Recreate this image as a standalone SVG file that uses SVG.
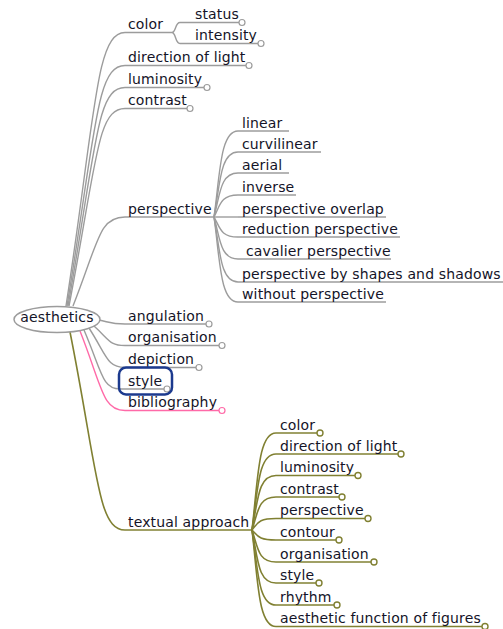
<svg xmlns="http://www.w3.org/2000/svg" width="503" height="629" viewBox="0 0 503 629">
<style>
text{font-family:"DejaVu Sans","Liberation Sans",sans-serif;font-size:14px;letter-spacing:0.15px;fill:#141428}
.g{fill:none;stroke:#9c9c9c;stroke-width:1.4}
.o{fill:none;stroke:#808032;stroke-width:1.6}
.p{fill:none;stroke:#ff6aa8;stroke-width:1.4}
.cg{fill:#fff;stroke:#9c9c9c;stroke-width:1.2}
.co{fill:#fff;stroke:#808032;stroke-width:1.4}
.cp{fill:#fff;stroke:#ff6aa8;stroke-width:1.2}
</style>
<g id="connectors">
<path class="g" d="M66 306 C95.5 115 95.5 32.5 125 32.5"/>
<path class="g" d="M67 306 C96 130 96 65.5 125 65.5"/>
<path class="g" d="M68 306 C96.5 145 96.5 87.5 125 87.5"/>
<path class="g" d="M69 306 C97 160 97 108.5 125 108.5"/>
<path class="g" d="M73 306 C99 240 99 217 125 217"/>
<path class="g" d="M99 320 C112 323 112 324 125 324"/>
<path class="g" d="M94 326 C109.5 340 109.5 345.5 125 345.5"/>
<path class="g" d="M89 328 C107 356 107 367.5 125 367.5"/>
<path class="g" d="M84 330 C102 372 102 389 120 389"/>
<path class="p" d="M80 331 C102.5 388 102.5 410.5 125 410.5"/>
<path class="o" d="M70 332 C97.5 470 97.5 530 125 530"/>
<path class="g" d="M172 32.5 C176 32.5 175 22.5 180 22.5"/>
<path class="g" d="M172 32.5 C176 32.5 175 43.5 180 43.5"/>
<g class="g">
<path d="M214 217 C220 175 220 131 238 131"/>
<path d="M214 217 C220 185 220 152 238 152"/>
<path d="M214 217 C220 195 220 173 238 173"/>
<path d="M214 217 C220 206 220 195 238 195"/>
<path d="M214 217 L238 217"/>
<path d="M214 217 C220 227 220 237 238 237"/>
<path d="M214 217 C220 238 220 259 238 259"/>
<path d="M214 217 C220 250 220 282 238 282"/>
<path d="M214 217 C220 260 220 302 238 302"/>
</g>
<g class="o">
<path d="M252 530 C258 480 258 433 276 433"/>
<path d="M252 530 C258 490 258 454 276 454"/>
<path d="M252 530 C258 500 258 475.5 276 475.5"/>
<path d="M252 530 C258 512 258 497 276 497"/>
<path d="M252 530 C258 523 258 518.5 276 518.5"/>
<path d="M252 530 C258 536 258 540 276 540"/>
<path d="M252 530 C258 548 258 562 276 562"/>
<path d="M252 530 C258 560 258 583 276 583"/>
<path d="M252 530 C258 570 258 605 276 605"/>
<path d="M252 530 C258 580 258 626.5 276 626.5"/>
</g>
</g>
<g id="root">
<ellipse cx="57" cy="319.5" rx="43" ry="13" fill="#fff" stroke="#9c9c9c" stroke-width="1.5"/>
<text x="57" y="321.5" text-anchor="middle">aesthetics</text>
</g>
<g id="n-color"><path class="g" d="M125 32.5H172"/><text x="128" y="29">color</text></g>
<g id="n-status"><path class="g" d="M180 22.5H239"/><circle class="cg" cx="242" cy="22.5" r="3"/><text x="195" y="19">status</text></g>
<g id="n-intensity"><path class="g" d="M180 43.5H258"/><circle class="cg" cx="261" cy="43.5" r="3"/><text x="195" y="40">intensity</text></g>
<g id="n-direction"><path class="g" d="M125 65.5H246"/><circle class="cg" cx="249" cy="65.5" r="3"/><text x="128" y="62">direction of light</text></g>
<g id="n-luminosity"><path class="g" d="M125 87.5H204"/><circle class="cg" cx="207" cy="87.5" r="3"/><text x="128" y="84">luminosity</text></g>
<g id="n-contrast"><path class="g" d="M125 108.5H187"/><circle class="cg" cx="190" cy="108.5" r="3"/><text x="128" y="105">contrast</text></g>
<g id="n-perspective"><path class="g" d="M125 217H214"/><text x="128" y="213.5">perspective</text></g>
<g id="n-linear"><path class="g" d="M238 131H289"/><text x="242" y="127.5">linear</text></g>
<g id="n-curvilinear"><path class="g" d="M238 152H321"/><text x="242" y="148.5">curvilinear</text></g>
<g id="n-aerial"><path class="g" d="M238 173H289"/><text x="242" y="169.5">aerial</text></g>
<g id="n-inverse"><path class="g" d="M238 195H296"/><text x="242" y="191.5">inverse</text></g>
<g id="n-overlap"><path class="g" d="M238 217H386"/><text x="242" y="213.5">perspective overlap</text></g>
<g id="n-reduction"><path class="g" d="M238 237H400"/><text x="242" y="233.5">reduction perspective</text></g>
<g id="n-cavalier"><path class="g" d="M238 259H391"/><text x="246" y="255.5">cavalier perspective</text></g>
<g id="n-shapes"><path class="g" d="M238 282H503"/><text x="242" y="278.5">perspective by shapes and shadows</text></g>
<g id="n-without"><path class="g" d="M238 302H386"/><text x="242" y="298.5">without perspective</text></g>
<g id="n-angulation"><path class="g" d="M125 324H206"/><circle class="cg" cx="209" cy="324" r="3"/><text x="128" y="320.5">angulation</text></g>
<g id="n-organisation"><path class="g" d="M125 345.5H219"/><circle class="cg" cx="222" cy="345.5" r="3"/><text x="128" y="342">organisation</text></g>
<g id="n-depiction"><path class="g" d="M125 367.5H196"/><circle class="cg" cx="199" cy="367.5" r="3"/><text x="128" y="364">depiction</text></g>
<g id="n-style"><path class="g" d="M120 389H164"/><circle class="cg" cx="167" cy="389" r="3"/><text x="128" y="385.5">style</text><rect x="119" y="367.5" width="53" height="27" rx="7" fill="none" stroke="#1c3a8e" stroke-width="2.5"/></g>
<g id="n-bibliography"><path class="p" d="M125 410.5H219"/><circle class="cp" cx="222" cy="410.5" r="3"/><text x="128" y="407">bibliography</text></g>
<g id="n-textual"><path class="o" d="M125 530H252"/><text x="128" y="526.5">textual approach</text></g>
<g id="t-color"><path class="o" d="M276 433H317"/><circle class="co" cx="320" cy="433" r="3"/><text x="280" y="429.5">color</text></g>
<g id="t-direction"><path class="o" d="M276 454H398"/><circle class="co" cx="401" cy="454" r="3"/><text x="280" y="450.5">direction of light</text></g>
<g id="t-luminosity"><path class="o" d="M276 475.5H355"/><circle class="co" cx="358" cy="475.5" r="3"/><text x="280" y="472">luminosity</text></g>
<g id="t-contrast"><path class="o" d="M276 497H339"/><circle class="co" cx="342" cy="497" r="3"/><text x="280" y="493.5">contrast</text></g>
<g id="t-perspective"><path class="o" d="M276 518.5H365"/><circle class="co" cx="368" cy="518.5" r="3"/><text x="280" y="515">perspective</text></g>
<g id="t-contour"><path class="o" d="M276 540H336"/><circle class="co" cx="339" cy="540" r="3"/><text x="280" y="536.5">contour</text></g>
<g id="t-organisation"><path class="o" d="M276 562H371"/><circle class="co" cx="374" cy="562" r="3"/><text x="280" y="558.5">organisation</text></g>
<g id="t-style"><path class="o" d="M276 583H316"/><circle class="co" cx="319" cy="583" r="3"/><text x="280" y="579.5">style</text></g>
<g id="t-rhythm"><path class="o" d="M276 605H334"/><circle class="co" cx="337" cy="605" r="3"/><text x="280" y="601.5">rhythm</text></g>
<g id="t-aesthetic"><path class="o" d="M276 626.5H482"/><circle class="co" cx="485" cy="626.5" r="3"/><text x="280" y="623">aesthetic function of figures</text></g>
</svg>
